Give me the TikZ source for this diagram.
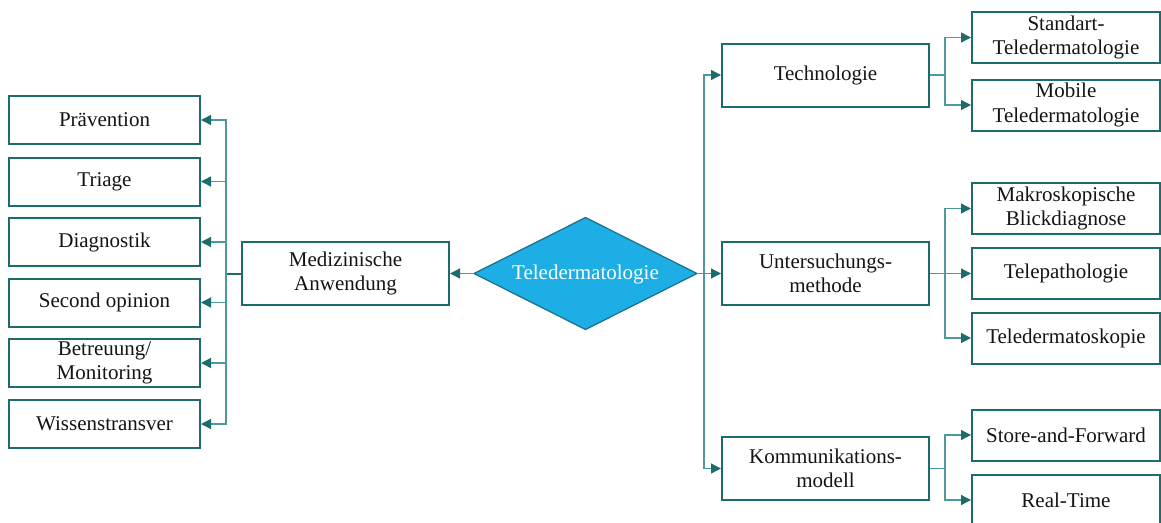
\documentclass[tikz,border=0pt]{standalone}
\usepackage{fontspec}
\setmainfont{Liberation Serif}
\usetikzlibrary{arrows.meta}
\definecolor{boxline}{HTML}{1E6B6B}
\definecolor{connline}{HTML}{4E9A9A}
\definecolor{hubfill}{HTML}{1CAEE4}
\definecolor{hubline}{HTML}{1A6F8C}
\definecolor{txt}{HTML}{141414}
\tikzset{
  base/.style={draw=boxline, line width=2pt, fill=white, text=txt, align=center,
    inner sep=0pt, font=\fontsize{21}{24.5}\selectfont},
  leftbox/.style={base, minimum width=191pt, minimum height=48pt},
  midbox/.style={base, minimum width=207pt, minimum height=63pt},
  leafbox/.style={base, minimum width=188pt, minimum height=51pt},
  hubtext/.style={text=white, inner sep=0pt, font=\fontsize{21}{24.5}\selectfont},
  hubshape/.style={draw=hubline, line width=1.2pt, fill=hubfill},
  conn/.style={draw=connline, line width=1.3pt,
    -{Triangle[length=10pt,width=10pt,fill=boxline,color=boxline]}},
  trunk/.style={draw=connline, line width=1.3pt}
}
\begin{document}
\begin{tikzpicture}[x=1pt,y=-1pt]
\useasboundingbox (0,0) rectangle (1161,522);

% centre diamond
\coordinate (hubW) at (474,273.5);
\coordinate (hubE) at (697,273.5);
\coordinate (hubN) at (585.5,217.5);
\coordinate (hubS) at (585.5,329.5);
\path[hubshape] (hubW) -- (hubN) -- (hubE) -- (hubS) -- cycle;
\node[hubtext] (tele) at (585.5,274.5) {Teledermatologie};

% left branch
\node[midbox] (med) at (345.5,273.5) {Medizinische\\Anwendung};
\node[leftbox] (prae) at (104.5,120) {Prävention};
\node[leftbox] (tria) at (104.5,181.5) {Triage};
\node[leftbox] (diag) at (104.5,242) {Diagnostik};
\node[leftbox] (seco) at (104.5,302.5) {Second opinion};
\node[leftbox] (betr) at (104.5,363) {Betreuung/\\Monitoring};
\node[leftbox] (wiss) at (104.5,424) {Wissenstransver};

% right branches
\node[midbox] (tech) at (825.5,75) {Technologie};
\node[midbox] (unte) at (825.5,273.5) {Untersuchungs-\\methode};
\node[midbox] (komm) at (825.5,468.5) {Kommunikations-\\modell};

\node[leafbox] (stan) at (1066,37.5) {Standart-\\Teledermatologie};
\node[leafbox] (mobi) at (1066,105) {Mobile\\Teledermatologie};
\node[leafbox] (makr) at (1066,208.5) {Makroskopische\\Blickdiagnose};
\node[leafbox] (path) at (1066,273.5) {Telepathologie};
\node[leafbox] (skop) at (1066,338) {Teledermatoskopie};
\node[leafbox] (stor) at (1066,435) {Store-and-Forward};
\node[leafbox] (real) at (1066,500) {Real-Time};

% bus coordinates
\coordinate (lbus) at (226,273.5);
\coordinate (rbus) at (704,273.5);
\coordinate (tbus) at (945,75);
\coordinate (ubus) at (945,273.5);
\coordinate (kbus) at (945,468.5);

% centre to left
\draw[conn] (hubW) -- (med.east);
\draw[trunk, draw=boxline, line width=2pt] (med.west) -- (lbus);
\foreach \n in {prae,tria,diag,seco,betr,wiss}
  \draw[conn] (lbus) |- (\n.east);

% centre to right
\draw[conn] (hubE) -- (unte.west);
\draw[conn] (rbus) |- (tech.west);
\draw[conn] (rbus) |- (komm.west);

% second level on the right
\draw[trunk] (tech.east) -- (tbus);
\draw[conn] (tbus) |- (stan.west);
\draw[conn] (tbus) |- (mobi.west);
\draw[trunk] (unte.east) -- (ubus);
\draw[conn] (ubus) |- (makr.west);
\draw[conn] (ubus) -- (path.west);
\draw[conn] (ubus) |- (skop.west);
\draw[trunk] (komm.east) -- (kbus);
\draw[conn] (kbus) |- (stor.west);
\draw[conn] (kbus) |- (real.west);
\end{tikzpicture}
\end{document}
